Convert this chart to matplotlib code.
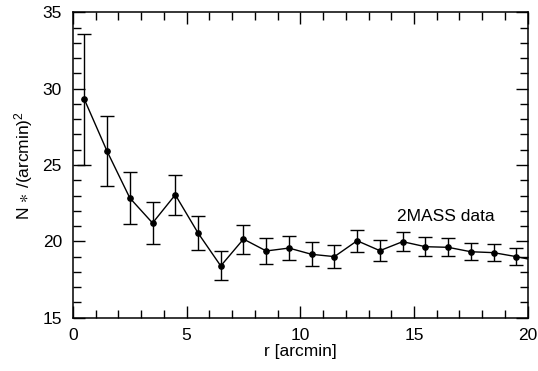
import matplotlib
matplotlib.use('Agg')
import matplotlib.pyplot as plt
from matplotlib.ticker import MultipleLocator

plt.rcParams['font.family'] = ['Liberation Sans', 'DejaVu Sans']
plt.rcParams['mathtext.fontset'] = 'custom'
plt.rcParams['mathtext.rm'] = 'Liberation Sans'
plt.rcParams['mathtext.it'] = 'Liberation Sans'
plt.rcParams['mathtext.fallback'] = 'stixsans'

# radial density profile, 1 arcmin rings
r = [0.5, 1.5, 2.5, 3.5, 4.5, 5.5, 6.5, 7.5, 8.5, 9.5,
     10.5, 11.5, 12.5, 13.5, 14.5, 15.5, 16.5, 17.5, 18.5, 19.5, 20.5]
dens = [29.3, 25.9, 22.84, 21.2, 23.05, 20.55, 18.39, 20.15, 19.37, 19.56,
        19.15, 19.0, 20.04, 19.39, 19.98, 19.65, 19.61, 19.32, 19.26, 19.0, 18.7]
err = [4.3, 2.3, 1.7, 1.4, 1.3, 1.1, 0.95, 0.95, 0.85, 0.8,
       0.78, 0.73, 0.72, 0.67, 0.64, 0.62, 0.58, 0.57, 0.57, 0.55, 0.55]

fs = 12.5

fig = plt.figure(figsize=(5.38, 3.71), dpi=100)
ax = fig.add_axes([0.1357, 0.1437, 0.845, 0.823])

ax.errorbar(r, dens, yerr=err, fmt='o-', color='black', ms=3.8, lw=1.0,
            elinewidth=1.0, capsize=4.8, capthick=1.0, clip_on=True)

ax.set_xlim(0, 20)
ax.set_ylim(15, 35)
ax.xaxis.set_major_locator(MultipleLocator(5))
ax.xaxis.set_minor_locator(MultipleLocator(1))
ax.yaxis.set_major_locator(MultipleLocator(5))
ax.yaxis.set_minor_locator(MultipleLocator(1))
ax.tick_params(which='both', direction='in', top=True, right=True, width=1.0,
               labelsize=fs)
ax.tick_params(which='major', length=8.5)
ax.tick_params(which='minor', length=5.5)
ax.tick_params(axis='x', pad=7.5)
ax.tick_params(axis='y', pad=8)
for s in ax.spines.values():
    s.set_linewidth(1.1)

ax.text(14.27, 21.66, '2MASS data', fontsize=fs, va='center', ha='left')

ax.set_xlabel('r [arcmin]', fontsize=fs, labelpad=1)
ax.set_ylabel(r'N$\,\ast\,$/(arcmin)$^{2}$', fontsize=fs, labelpad=5)

fig.savefig('out.png', dpi=100)
